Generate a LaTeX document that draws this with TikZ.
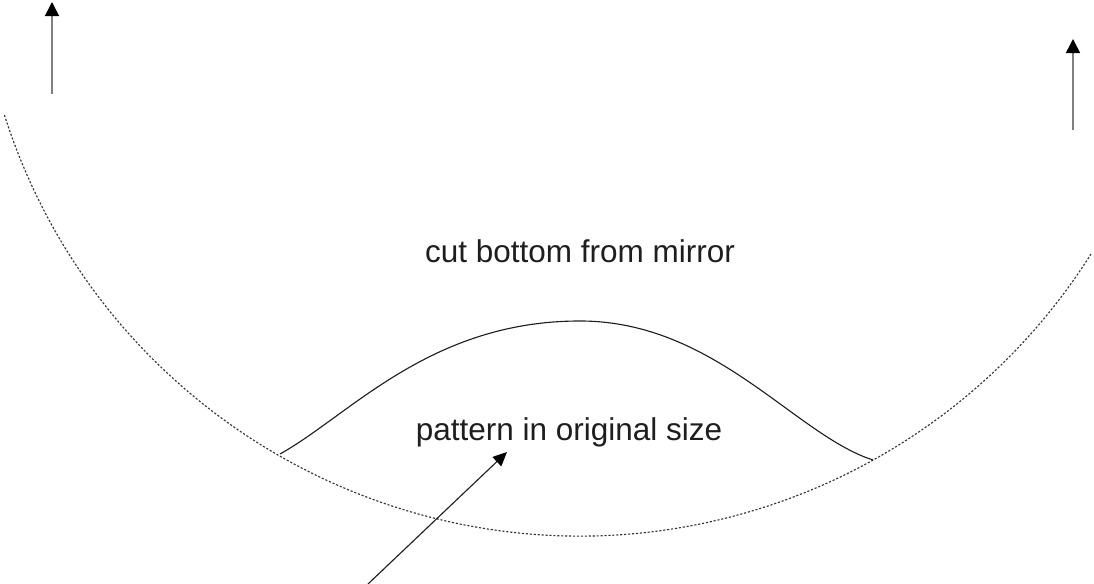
\documentclass[tikz,border=0pt]{standalone}
\usepackage{fontspec}
\setmainfont{Liberation Sans}
\usepackage{tikz}
\usetikzlibrary{
  arrows.meta,
  positioning
}
\usepackage{xcolor}
\definecolor{inkdark}{HTML}{1E1E1E}
\definecolor{stemgray}{HTML}{808080}
\definecolor{dotgray}{HTML}{333333}
\tikzset{
  caption/.style={
    text=inkdark,
    font=\fontsize{22.4}{26}\selectfont,
    inner sep=0pt
  },
  uparrow/.style={
    -{Triangle[length=10pt,width=10pt,color=black]},
    line width=1.1pt,
    draw=stemgray
  },
  pointer/.style={
    -{Triangle[length=10pt,width=9pt,color=black]},
    line width=0.8pt,
    draw=inkdark
  },
  mirrorline/.style={
    draw=dotgray,
    line width=0.8pt,
    dash pattern=on 1.5pt off 1.3pt
  },
  patternline/.style={
    draw=inkdark,
    line width=0.8pt
  }
}
\begin{document}
\begin{tikzpicture}
\useasboundingbox (0,0) rectangle (27.35,14.6);

% vertical arrows
\coordinate (leftfoot) at (1.3,12.25);
\coordinate (lefttip) at (1.3,14.55);
\coordinate (rightfoot) at (26.825,11.35);
\coordinate (righttip) at (26.825,13.625);
\draw[uparrow] (leftfoot) -- (lefttip);
\draw[uparrow] (rightfoot) -- (righttip);

% mirror (dotted arc)
\coordinate (mirrorcenter) at (14.5,16.3);
\draw[mirrorline] (mirrorcenter) ++(197.65:15.1) arc[start angle=197.65,end angle=327.9,radius=15.1];

% pattern
\coordinate (patleft) at (7.0,3.25);
\coordinate (pattop) at (14.5,6.575);
\coordinate (patright) at (21.825,3.1);
\draw[patternline] (patleft) .. controls (8.75,4.225) and (10.75,6.575) .. (pattop)
  .. controls (17.875,6.575) and (19.875,3.725) .. (patright);

% labels
\node[caption,anchor=base] (cuttext) at (14.5,8.025) {cut bottom from mirror};
\node[caption,anchor=base] (patterntext) at (14.225,3.575) {pattern in original size};

% pointer to pattern
\coordinate (pointerfoot) at (9.2,0);
\coordinate (pointertip) at (12.675,3.3);
\draw[pointer] (pointerfoot) -- (pointertip);
\end{tikzpicture}
\end{document}
